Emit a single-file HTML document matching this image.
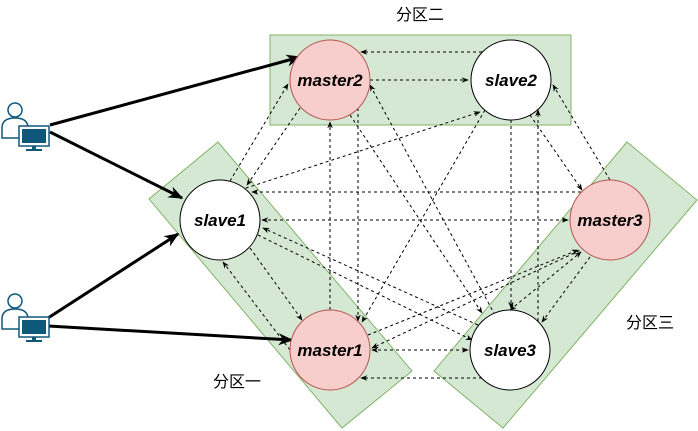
<!DOCTYPE html>
<html><head><meta charset="utf-8"><style>
body{margin:0;background:#fff;width:698px;height:431px;overflow:hidden}
svg{display:block}
.t{font-family:"Liberation Sans",sans-serif;font-weight:bold;font-style:italic;font-size:17px}
.c{font-family:"Liberation Sans","Noto Sans CJK SC",sans-serif;font-size:16px}
</style></head><body>
<svg width="698" height="431" viewBox="0 0 698 431" xmlns="http://www.w3.org/2000/svg">
<defs>
<marker id="a" viewBox="0 0 10 10" refX="9" refY="5" markerWidth="7" markerHeight="7" orient="auto-start-reverse"><path d="M0,1 L10,5 L0,9 L3,5z" fill="#000"/></marker>
<marker id="b" viewBox="0 0 10 10" refX="9" refY="5" markerWidth="5" markerHeight="5" orient="auto"><path d="M0,1 L10,5 L0,9 L3,5z" fill="#000"/></marker>
</defs>
<polygon points="270,35 571,35 571,125 270,125" fill="#d5e8d4" stroke="#82b366"/>
<polygon points="218,142 412,371 342,428 149,199" fill="#d5e8d4" stroke="#82b366"/>
<polygon points="627,142 697,200 503,428 434,371" fill="#d5e8d4" stroke="#82b366"/>
<g stroke="#000" stroke-width="1" stroke-dasharray="3,3" fill="none">
<line x1="482" y1="52" x2="361" y2="52" marker-end="url(#a)"/>
<line x1="370" y1="80" x2="468" y2="80" marker-end="url(#a)"/>
<line x1="581" y1="192" x2="252" y2="192" marker-end="url(#a)"/>
<line x1="262" y1="220" x2="568" y2="220" marker-start="url(#a)" marker-end="url(#a)"/>
<line x1="372" y1="350" x2="468" y2="350" marker-start="url(#a)" marker-end="url(#a)"/>
<line x1="482" y1="378" x2="361" y2="378" marker-end="url(#a)"/>
<line x1="330" y1="310" x2="330" y2="122" marker-end="url(#a)"/>
<line x1="358" y1="108" x2="358" y2="321" marker-end="url(#a)"/>
<line x1="511" y1="120" x2="511" y2="308" marker-end="url(#a)"/>
<line x1="538" y1="321" x2="538" y2="110" marker-end="url(#a)"/>
<line x1="290" y1="350" x2="223" y2="262" marker-end="url(#a)"/>
<line x1="250" y1="248" x2="302" y2="320" marker-end="url(#a)"/>
<line x1="590" y1="257" x2="542" y2="322" marker-end="url(#a)"/>
<line x1="510" y1="310" x2="581" y2="252" marker-start="url(#a)" marker-end="url(#a)"/>
<line x1="300" y1="108" x2="247" y2="185" marker-end="url(#a)"/>
<line x1="230" y1="181" x2="288" y2="84" marker-end="url(#a)"/>
<line x1="530" y1="115" x2="582" y2="190" marker-end="url(#a)"/>
<line x1="610" y1="180" x2="553" y2="85" marker-end="url(#a)"/>
<line x1="350" y1="115" x2="482" y2="313" marker-end="url(#a)"/>
<line x1="485" y1="110" x2="362" y2="322" marker-end="url(#a)"/>
<line x1="240" y1="190" x2="480" y2="112" marker-end="url(#a)"/>
<line x1="495" y1="315" x2="370" y2="85" marker-end="url(#a)"/>
<line x1="368" y1="335" x2="578" y2="250" marker-end="url(#a)"/>
<line x1="258" y1="235" x2="472" y2="340" marker-end="url(#a)"/>
<line x1="478" y1="325" x2="263" y2="228" marker-end="url(#a)"/>
<line x1="585" y1="248" x2="372" y2="348" marker-end="url(#a)"/>
</g>
<g stroke="#000" stroke-width="3" fill="none">
<line x1="50" y1="125" x2="300" y2="57" marker-end="url(#b)"/>
<line x1="50" y1="132" x2="182" y2="198" marker-end="url(#b)"/>
<line x1="48" y1="318" x2="178" y2="234" marker-end="url(#b)"/>
<line x1="48" y1="326" x2="292" y2="340" marker-end="url(#b)"/>
</g>
<circle cx="330" cy="80" r="40" fill="#f8cecc" stroke="#b85450"/>
<circle cx="511" cy="80" r="40" fill="#fff" stroke="#000"/>
<circle cx="220" cy="220" r="40" fill="#fff" stroke="#000"/>
<circle cx="610" cy="220" r="40" fill="#f8cecc" stroke="#b85450"/>
<circle cx="330" cy="350" r="40" fill="#f8cecc" stroke="#b85450"/>
<circle cx="510" cy="350" r="40" fill="#fff" stroke="#000"/>
<g class="t" text-anchor="middle">
<text x="330" y="86">master2</text>
<text x="511" y="86">slave2</text>
<text x="220" y="226">slave1</text>
<text x="610" y="226">master3</text>
<text x="330" y="356">master1</text>
<text x="510" y="356">slave3</text>
</g>
<g class="c" text-anchor="middle">
<text x="420" y="20">分区二</text>
<text x="237" y="387">分区一</text>
<text x="650" y="328">分区三</text>
</g>
<g id="u" stroke="#10587a" stroke-width="1.5" fill="#fff">
<circle cx="15" cy="110" r="7"/>
<path d="M2,138 L2,128 Q2,118 15,118 Q28,118 28,128 L28,138 Z"/>
<rect x="19" y="126" width="30" height="20" fill="#fff"/>
<rect x="22" y="129" width="24" height="14" fill="#10587a" stroke="none"/>
<rect x="32" y="146" width="4" height="4" fill="#10587a" stroke="none"/>
<rect x="26" y="149" width="16" height="2" fill="#10587a" stroke="none"/>
</g>
<use href="#u" transform="translate(0,191)"/>
</svg>
</body></html>
